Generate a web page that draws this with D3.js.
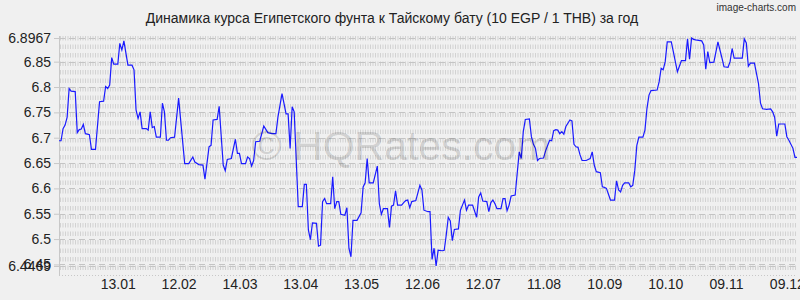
<!DOCTYPE html>
<html lang="ru">
<head>
<meta charset="UTF-8">
<title>EGP / THB</title>
<style>
  body { margin: 0; background: #f0f0f0; }
  svg text { font-family: "Liberation Sans", Arial, sans-serif; fill: #222; }
</style>
<script src="https://d3js.org/d3.v7.min.js"></script>
</head>
<body>
<svg width="800" height="300"></svg>
<script>
var title = "Динамика курса Египетского фунта к Тайскому бату (10 EGP / 1 THB) за год";
var startDate = "2022-12-15";
var endDate = "2023-12-14";
var tickDates = ["2023-01-13", "2023-02-12", "2023-03-14", "2023-04-13", "2023-05-13", "2023-06-12",
                 "2023-07-12", "2023-08-11", "2023-09-10", "2023-10-10", "2023-11-09", "2023-12-09"];
var yTicks = [6.4469, 6.45, 6.5, 6.55, 6.6, 6.65, 6.7, 6.75, 6.8, 6.85, 6.8967];

// day number since startDate
var dayOffsets = [0, 1, 2, 3, 4, 5, 6, 8, 9, 10, 11, 12, 13, 14, 15, 16, 18, 20, 22, 23, 24, 25, 26, 27, 29, 30,
  31, 32, 34, 36, 37, 38, 39, 40, 41, 43, 44, 45, 46, 47, 48, 50, 51, 52, 53, 54, 55, 57, 59, 62, 64, 66, 67, 69,
  71, 72, 74, 75, 76, 78, 79, 81, 82, 83, 85, 87, 88, 89, 90, 92, 93, 94, 95, 96, 97, 99, 101, 103, 105, 107, 108,
  110, 112, 113, 114, 115, 116, 118, 120, 121, 122, 123, 124, 125, 127, 128, 129, 130, 131, 132, 134, 135, 136, 137,
  138, 139, 141, 142, 143, 144, 145, 147, 149, 150, 151, 152, 153, 155, 157, 158, 159, 160, 162, 163, 164, 165, 166,
  167, 169, 170, 171, 172, 173, 174, 176, 178, 179, 180, 182, 183, 184, 185, 186, 187, 189, 190, 191, 192, 193, 194,
  195, 197, 198, 199, 200, 201, 202, 204, 206, 207, 208, 209, 211, 212, 213, 214, 215, 216, 218, 219, 220, 221, 222,
  223, 225, 226, 227, 228, 229, 230, 232, 233, 234, 235, 236, 237, 239, 240, 242, 243, 244, 245, 246, 247, 248, 249,
  250, 252, 253, 254, 255, 256, 257, 258, 260, 262, 263, 264, 265, 267, 268, 269, 270, 272, 274, 275, 276, 277, 278,
  279, 281, 282, 283, 284, 285, 286, 288, 289, 290, 291, 292, 295, 296, 297, 298, 299, 300, 302, 303, 304, 305, 306,
  307, 309, 310, 311, 312, 313, 314, 317, 318, 319, 320, 321, 323, 325, 326, 327, 328, 330, 331, 332, 333, 335, 337,
  338, 339, 340, 341, 343, 345, 346, 347, 349, 351, 352, 353, 354, 355, 357, 358, 359, 360, 362, 363, 364];

var rates = [6.694, 6.694, 6.718, 6.725, 6.740, 6.797, 6.792, 6.791, 6.710, 6.716, 6.717, 6.726, 6.708, 6.707, 6.706,
  6.677, 6.677, 6.771, 6.772, 6.801, 6.797, 6.804, 6.858, 6.845, 6.845, 6.886, 6.873, 6.891, 6.843, 6.843, 6.834,
  6.755, 6.738, 6.751, 6.718, 6.718, 6.715, 6.751, 6.720, 6.722, 6.701, 6.701, 6.768, 6.751, 6.695, 6.695, 6.700,
  6.701, 6.778, 6.649, 6.649, 6.662, 6.652, 6.647, 6.646, 6.618, 6.682, 6.685, 6.735, 6.736, 6.762, 6.646, 6.635,
  6.657, 6.659, 6.697, 6.669, 6.669, 6.649, 6.649, 6.662, 6.659, 6.644, 6.655, 6.692, 6.693, 6.723, 6.710, 6.708,
  6.708, 6.741, 6.787, 6.747, 6.747, 6.679, 6.761, 6.751, 6.564, 6.564, 6.608, 6.608, 6.518, 6.499, 6.532, 6.531,
  6.486, 6.488, 6.574, 6.580, 6.570, 6.570, 6.623, 6.560, 6.574, 6.574, 6.549, 6.547, 6.562, 6.482, 6.465, 6.537,
  6.537, 6.552, 6.603, 6.611, 6.659, 6.611, 6.611, 6.644, 6.570, 6.549, 6.560, 6.560, 6.523, 6.565, 6.567, 6.595,
  6.567, 6.567, 6.572, 6.576, 6.577, 6.562, 6.574, 6.576, 6.606, 6.597, 6.557, 6.554, 6.554, 6.460, 6.482, 6.4469,
  6.478, 6.477, 6.478, 6.508, 6.543, 6.536, 6.497, 6.519, 6.520, 6.557, 6.567, 6.577, 6.557, 6.567, 6.567, 6.543,
  6.583, 6.591, 6.575, 6.574, 6.554, 6.572, 6.577, 6.570, 6.560, 6.560, 6.580, 6.580, 6.556, 6.567, 6.585, 6.587,
  6.630, 6.672, 6.659, 6.712, 6.736, 6.737, 6.702, 6.687, 6.679, 6.655, 6.659, 6.660, 6.674, 6.695, 6.694, 6.714,
  6.716, 6.715, 6.708, 6.712, 6.707, 6.722, 6.735, 6.733, 6.687, 6.682, 6.681, 6.666, 6.655, 6.655, 6.659, 6.672,
  6.646, 6.633, 6.631, 6.603, 6.602, 6.600, 6.577, 6.577, 6.615, 6.597, 6.593, 6.606, 6.611, 6.611, 6.603, 6.606,
  6.636, 6.685, 6.701, 6.701, 6.715, 6.758, 6.784, 6.793, 6.794, 6.810, 6.837, 6.834, 6.850, 6.889, 6.889, 6.870,
  6.850, 6.830, 6.841, 6.852, 6.852, 6.895, 6.855, 6.8967, 6.894, 6.893, 6.891, 6.883, 6.835, 6.870, 6.848, 6.849,
  6.889, 6.873, 6.857, 6.840, 6.839, 6.850, 6.876, 6.857, 6.857, 6.857, 6.895, 6.887, 6.841, 6.847, 6.847, 6.807,
  6.768, 6.757, 6.756, 6.757, 6.751, 6.740, 6.703, 6.727, 6.727, 6.727, 6.702, 6.695, 6.679, 6.661, 6.661];

var svg = d3.select("svg"),
    plotLeft = 59, plotRight = 797, plotTop = 38, plotBottom = 266, axisY = 275;

var parse = d3.utcParse("%Y-%m-%d");
var t0 = parse(startDate);
var data = dayOffsets.map(function (d, i) {
  return { date: d3.utcDay.offset(t0, d), value: rates[i] };
});

var x = d3.scaleUtc().domain([t0, parse(endDate)]).range([plotLeft, plotRight]);
var y = d3.scaleLinear().domain([6.4469, 6.8967]).range([plotBottom, plotTop]);

svg.append("rect").attr("width", 800).attr("height", 300).attr("fill", "#f0f0f0");

// dense vertical texture
var grid = svg.append("g").attr("stroke", "#d2d2d2").attr("stroke-width", 1);
d3.range(plotLeft + 1.5, plotRight, 2.5).forEach(function (gx) {
  grid.append("line")
    .attr("x1", gx).attr("x2", gx)
    .attr("y1", plotTop - 2).attr("y2", axisY - 3)
    .attr("stroke-dasharray", "4.5,4");
});

// horizontal grid lines
svg.append("g").selectAll("line")
  .data(yTicks).enter().append("line")
  .attr("x1", plotLeft).attr("x2", plotRight)
  .attr("y1", function (d) { return Math.round(y(d)) + 0.5; })
  .attr("y2", function (d) { return Math.round(y(d)) + 0.5; })
  .attr("stroke", "#c4c4c4")
  .attr("stroke-dasharray", "6,4");

// left axis line and bottom dotted line
svg.append("line").attr("x1", plotLeft + 0.5).attr("x2", plotLeft + 0.5)
  .attr("y1", plotTop - 2).attr("y2", axisY).attr("stroke", "#c8c8c8");
svg.append("line").attr("x1", plotLeft).attr("x2", plotRight)
  .attr("y1", axisY + 0.5).attr("y2", axisY + 0.5)
  .attr("stroke", "#c8c8c8").attr("stroke-dasharray", "1,2");

// y axis
var yAxis = d3.axisLeft(y).tickValues(yTicks).tickSize(5).tickPadding(3)
  .tickFormat(function (d) { return String(d); });
var gy = svg.append("g").attr("transform", "translate(" + plotLeft + ",0)").call(yAxis);
gy.select(".domain").remove();
gy.selectAll("line").attr("stroke", "#c8c8c8");
gy.selectAll("text").attr("font-size", 14).attr("fill", "#222")
  .attr("font-family", "'Liberation Sans', Arial, sans-serif");

// x axis
var xAxis = d3.axisBottom(x).tickValues(tickDates.map(parse)).tickSize(0).tickPadding(4)
  .tickFormat(d3.utcFormat("%d.%m"));
var gx = svg.append("g").attr("transform", "translate(0," + axisY + ")").call(xAxis);
gx.select(".domain").remove();
gx.selectAll("text").attr("font-size", 14).attr("fill", "#222")
  .attr("font-family", "'Liberation Sans', Arial, sans-serif");

// rate line
var line = d3.line()
  .x(function (d) { return x(d.date); })
  .y(function (d) { return y(d.value); });
svg.append("path").datum(data)
  .attr("d", line)
  .attr("fill", "none")
  .attr("stroke", "#1a1aff")
  .attr("stroke-width", 1.2);

// watermark
svg.append("text").attr("x", 401).attr("y", 160)
  .attr("text-anchor", "middle")
  .attr("font-size", 41)
  .style("fill", "rgba(0,0,0,0.14)")
  .text("© HQRates.com");

// title
svg.append("text").attr("x", 392).attr("y", 23)
  .attr("text-anchor", "middle").attr("font-size", 14)
  .text(title);

svg.append("text").attr("x", 796).attr("y", 11)
  .attr("text-anchor", "end").attr("font-size", 10)
  .style("fill", "#333")
  .text("image-charts.com");
</script>
</body>
</html>
